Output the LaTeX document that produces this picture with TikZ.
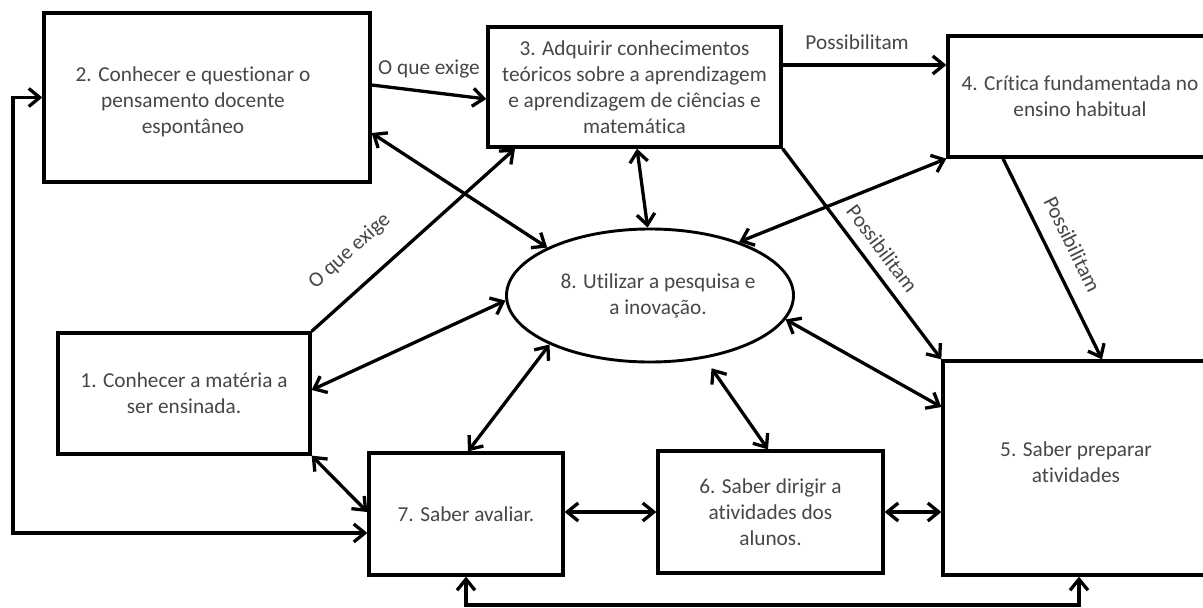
\documentclass[tikz,border=0pt]{standalone}
\usepackage{fontspec}
\setmainfont{Carlito}[Ligatures=NoCommon]
\usetikzlibrary{arrows.meta,shapes.geometric}
\begin{document}
\begin{tikzpicture}[x=1pt,y=-1pt]
\tikzset{
  txt/.style={align=center, text=black!72, font=\fontsize{21.3}{26}\selectfont},
  box/.style={draw=black, line width=3.3pt, inner sep=3pt, txt},
  hd/.tip={Straight Barb[length=11pt,width=18pt]},
  conn/.style={line width=3.3pt, -hd},
  both/.style={line width=3.3pt, hd-hd},
  lbl/.style={font=\fontsize{21.3}{26}\selectfont, text=black!72},
}
\fill[white] (0,0) rectangle (1203,608);
\useasboundingbox (0,0) rectangle (1203,608);
\clip (0,0) rectangle (1203,608);

% boxes
\node[box, minimum width=326pt, minimum height=169pt] (b2) at (207,97.5) {};
\node[txt] (t2) at (193,102) {2. Conhecer e questionar o\\pensamento docente\\espontâneo};
\node[box, minimum width=293pt, minimum height=120pt] (b3) at (634.5,87)
  {3. Adquirir conhecimentos\\teóricos sobre a aprendizagem\\e aprendizagem de ciências e\\matemática};
\node[box, minimum width=264pt, minimum height=121pt] (b4) at (1080,96.5)
  {4. Crítica fundamentada no\\ensino habitual};
\node[box, minimum width=252pt, minimum height=121pt] (b1) at (184,393.5)
  {1. Conhecer a matéria a\\ser ensinada.};
\node[box, minimum width=194pt, minimum height=122pt] (b7) at (466,514) {7. Saber avaliar.};
\node[box, minimum width=225pt, minimum height=122pt] (b6) at (770.5,512)
  {6. Saber dirigir a\\atividades dos\\alunos.};
\node[box, minimum width=267pt, minimum height=214pt] (b5) at (1076.5,468) {};
\node[txt] (t5) at (1076,462) {5. Saber preparar\\atividades};
\node[draw, ellipse, line width=2.9pt, minimum width=287pt, minimum height=133pt,
      inner sep=0pt] (e8) at (650,295.5) {};
\node[txt] (t8) at (658,296) {8. Utilizar a pesquisa e\\a inovação.};

% turning points of the two outer loops
\coordinate (lp) at (13,0);
\coordinate (bp) at (800,605);

% labelled one-way connectors
\draw[conn] ([yshift=12.5pt]b2.east) -- node[lbl, pos=0.5, above=9pt] {O que exige} ([yshift=-12pt]b3.west);
\draw[conn] ([yshift=22pt]b3.east) -- node[lbl, pos=0.455, above=10pt] {Possibilitam} ([yshift=31.5pt]b4.west);
\draw[conn] (b1.north east) -- node[lbl, sloped, pos=0.30, above=20pt] {O que exige} ([xshift=-119.5pt]b3.south);
\draw[conn] (b3.south east) -- node[lbl, sloped, pos=0.53, above=7pt] {Possibilitam} (b5.north west);
\draw[conn] ([xshift=-77pt]b4.south) -- node[lbl, sloped, pos=0.48, above=12pt] {Possibilitam} ([xshift=25.5pt]b5.north);

% two-way connectors
\draw[both] (e8.31) -- (b4.south west);
\draw[both] ([yshift=-35.5pt]b2.east) -- (e8.155);
\draw[both] ([xshift=2.5pt]b3.south) -- (e8.92);
\draw[both] ([yshift=3.5pt]b1.east) -- (e8.182);
\draw[both] (e8.-10) -- ([yshift=61pt]b5.west);
\draw[both] (e8.206) -- ([xshift=2pt]b7.north);
\draw[both, shorten <=12pt] (e8.-49) -- ([xshift=-2.5pt]b6.north);
\draw[both] (b1.south east) -- ([yshift=2pt]b7.west);
\draw[both] ([yshift=2pt]b7.east) -- (b6.west);
\draw[both] (b6.east) -- (b6.east -| b5.west);
\draw[both] ([yshift=-19pt]b7.west) -| (lp |- b2.west) -- (b2.west);
\draw[both] (b7.south) |- (bp) -| ([xshift=2.5pt]b5.south);
\end{tikzpicture}
\end{document}
